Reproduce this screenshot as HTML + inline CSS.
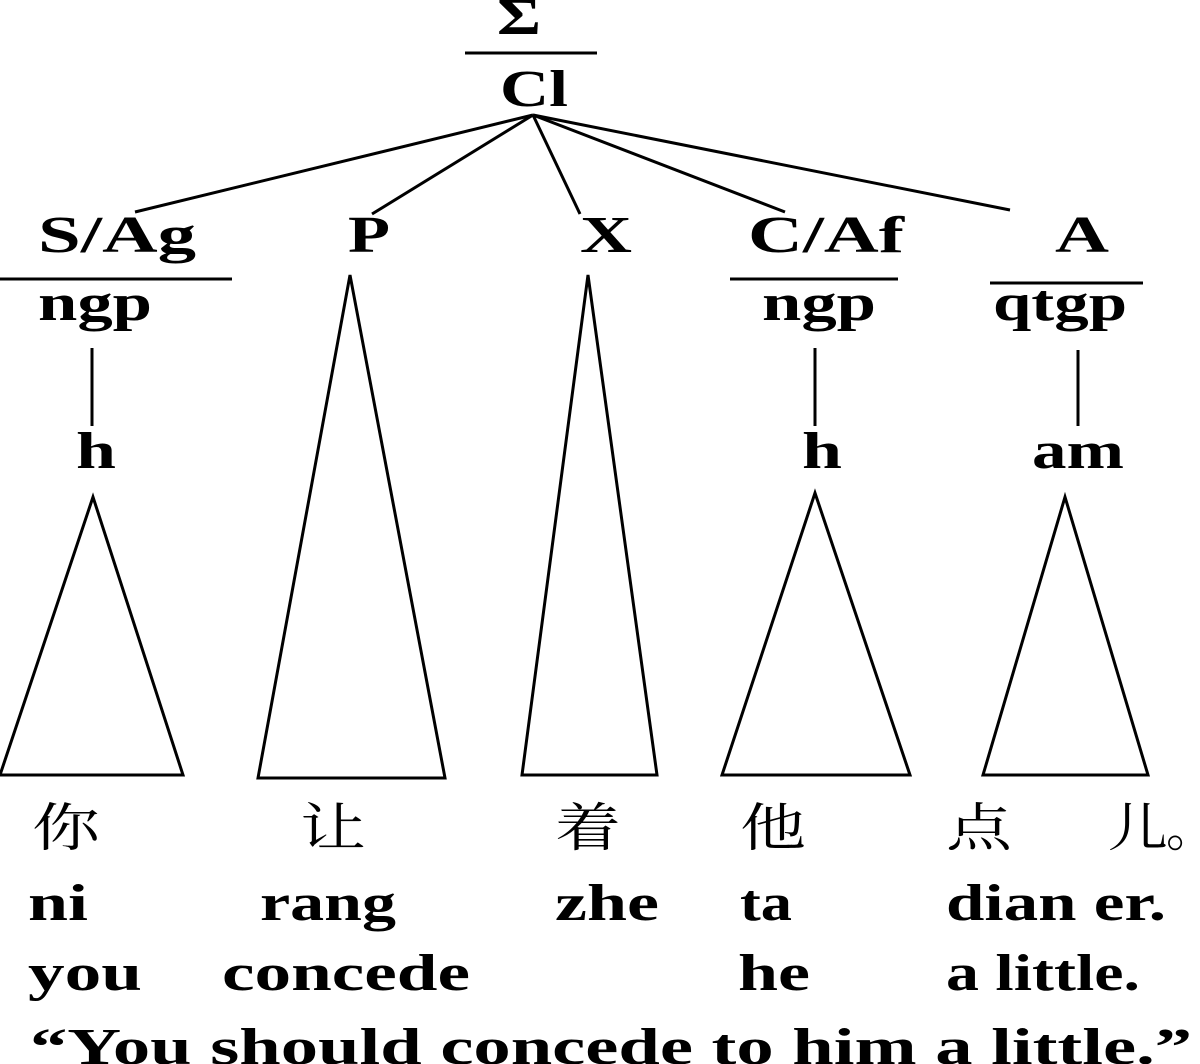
<!DOCTYPE html>
<html><head><meta charset="utf-8"><style>
html,body{margin:0;padding:0;background:#fff;}
svg{display:block}
text{font-family:"Liberation Serif","Noto Serif CJK SC",serif;font-weight:bold;fill:#000;}
.c{font-family:"Noto Serif CJK SC","Noto Sans CJK SC",serif;font-weight:normal;}
</style></head><body>
<svg width="1200" height="1064" viewBox="0 0 1200 1064" xmlns="http://www.w3.org/2000/svg">
<g font-size="52">
<text x="497" y="34" textLength="44" lengthAdjust="spacingAndGlyphs">Σ</text>
<text x="500" y="106" textLength="68" lengthAdjust="spacingAndGlyphs">Cl</text>
<text x="38" y="252" textLength="158" lengthAdjust="spacingAndGlyphs">S/Ag</text>
<text x="348" y="252" textLength="42" lengthAdjust="spacingAndGlyphs">P</text>
<text x="580" y="252" textLength="52" lengthAdjust="spacingAndGlyphs">X</text>
<text x="748" y="252" textLength="156" lengthAdjust="spacingAndGlyphs">C/Af</text>
<text x="1055" y="252" textLength="54" lengthAdjust="spacingAndGlyphs">A</text>
<text x="38" y="320" textLength="114" lengthAdjust="spacingAndGlyphs">ngp</text>
<text x="762" y="320" textLength="114" lengthAdjust="spacingAndGlyphs">ngp</text>
<text x="993" y="320" textLength="134" lengthAdjust="spacingAndGlyphs">qtgp</text>
<text x="76" y="468" textLength="40" lengthAdjust="spacingAndGlyphs">h</text>
<text x="802" y="468" textLength="40" lengthAdjust="spacingAndGlyphs">h</text>
<text x="1032" y="468" textLength="92" lengthAdjust="spacingAndGlyphs">am</text>
</g>
<g font-size="52">
<text class="c" x="32" y="846" textLength="68" lengthAdjust="spacingAndGlyphs">你</text>
<text class="c" x="300" y="846" textLength="66" lengthAdjust="spacingAndGlyphs">让</text>
<text class="c" x="555" y="846" textLength="66" lengthAdjust="spacingAndGlyphs">着</text>
<text class="c" x="740" y="846" textLength="66" lengthAdjust="spacingAndGlyphs">他</text>
<text class="c" x="946" y="846" textLength="66" lengthAdjust="spacingAndGlyphs">点</text>
<text class="c" x="1108" y="846" textLength="60" lengthAdjust="spacingAndGlyphs">儿</text>
<text class="c" x="1166" y="846" textLength="50" lengthAdjust="spacingAndGlyphs">。</text>
<text x="28" y="920" textLength="60" lengthAdjust="spacingAndGlyphs">ni</text>
<text x="260" y="920" textLength="136" lengthAdjust="spacingAndGlyphs">rang</text>
<text x="555" y="920" textLength="104" lengthAdjust="spacingAndGlyphs">zhe</text>
<text x="740" y="920" textLength="52" lengthAdjust="spacingAndGlyphs">ta</text>
<text x="946" y="920" textLength="220" lengthAdjust="spacingAndGlyphs">dian er.</text>
<text x="28" y="990" textLength="114" lengthAdjust="spacingAndGlyphs">you</text>
<text x="222" y="990" textLength="248" lengthAdjust="spacingAndGlyphs">concede</text>
<text x="738" y="990" textLength="72" lengthAdjust="spacingAndGlyphs">he</text>
<text x="946" y="990" textLength="194" lengthAdjust="spacingAndGlyphs">a little.</text>
<text x="30" y="1064" textLength="1162" lengthAdjust="spacingAndGlyphs">“You should concede to him a little.”</text>
</g>
<g stroke="#000" stroke-width="3" fill="none">
<line x1="465" y1="53" x2="597" y2="53"/>
<line x1="533" y1="115" x2="135" y2="212"/>
<line x1="533" y1="115" x2="372" y2="214"/>
<line x1="533" y1="115" x2="580" y2="214"/>
<line x1="533" y1="115" x2="785" y2="212"/>
<line x1="533" y1="115" x2="1010" y2="210"/>
<line x1="0" y1="279" x2="232" y2="279"/>
<line x1="730" y1="279" x2="898" y2="279"/>
<line x1="990" y1="283" x2="1143" y2="283"/>
<line x1="92" y1="348" x2="92" y2="426"/>
<line x1="815" y1="348" x2="815" y2="426"/>
<line x1="1078" y1="350" x2="1078" y2="426"/>
<polygon points="93,497 0,775 183,775"/>
<polygon points="350,275 258,778 445,778"/>
<polygon points="588,275 522,775 657,775"/>
<polygon points="815,493 722,775 910,775"/>
<polygon points="1065,497 983,775 1148,775"/>
</g>
</svg>
</body></html>
